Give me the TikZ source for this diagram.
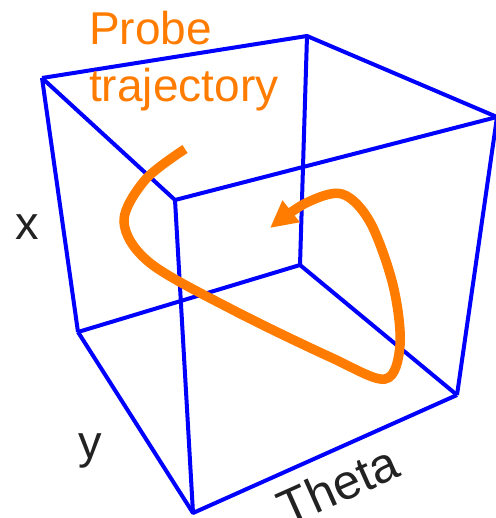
\documentclass[tikz,border=0pt]{standalone}
\usepackage{fontspec}
\setmainfont{Liberation Sans}
\usetikzlibrary{arrows.meta}
\definecolor{cubeblue}{RGB}{0,0,255}
\definecolor{trajorange}{RGB}{255,124,0}
\definecolor{labelgray}{RGB}{34,34,34}
\tikzset{
  edge/.style={draw=cubeblue, line width=4pt, line join=round},
  traj/.style={draw=trajorange, line width=9.5pt, line cap=butt},
  axislabel/.style={text=labelgray, inner sep=0pt, font=\fontsize{47}{55}\selectfont},
  probelabel/.style={text=trajorange, inner sep=0pt, anchor=base west, font=\fontsize{46}{55}\selectfont}
}
\begin{document}
\begin{tikzpicture}[x=1pt,y=-1pt]
\useasboundingbox (0,0) rectangle (495,518);
% cube corners
\coordinate (A) at (42,78);
\coordinate (B) at (307,36);
\coordinate (C) at (497,117);
\coordinate (D) at (175,200);
\coordinate (E) at (300,265);
\coordinate (F) at (78,332);
\coordinate (G) at (457,395);
\coordinate (H) at (193,513);
\draw[edge] (A) -- (B) -- (C);
\draw[edge] (A) -- (D) -- (C);
\draw[edge] (A) -- (F);
\draw[edge] (B) -- (E);
\draw[edge] (D) -- (H);
\draw[edge] (C) -- (G);
\draw[edge] (F) -- (E) -- (G);
\draw[edge] (F) -- (H) -- (G);
% trajectory
\draw[traj, -{Triangle[length=27pt,width=26pt]}] plot[smooth, tension=0.55] coordinates {
  (185,149) (145,180) (124,222) (150,263) (233,310) (330,357) (385,379) (400,345) (393,285) (370,222) (342,194) (306,203) (270,228)};
% labels
\node[probelabel] (probe1) at (89,45) {Probe};
\node[probelabel] (probe2) at (89,102) {trajectory};
\node[axislabel] (xlab) at (27,227) {x};
\node[axislabel] (ylab) at (90,451) {y};
\node[axislabel, rotate=24, font=\fontsize{49}{55}\selectfont] (thetalab) at (338,485) {Theta};
\end{tikzpicture}
\end{document}
